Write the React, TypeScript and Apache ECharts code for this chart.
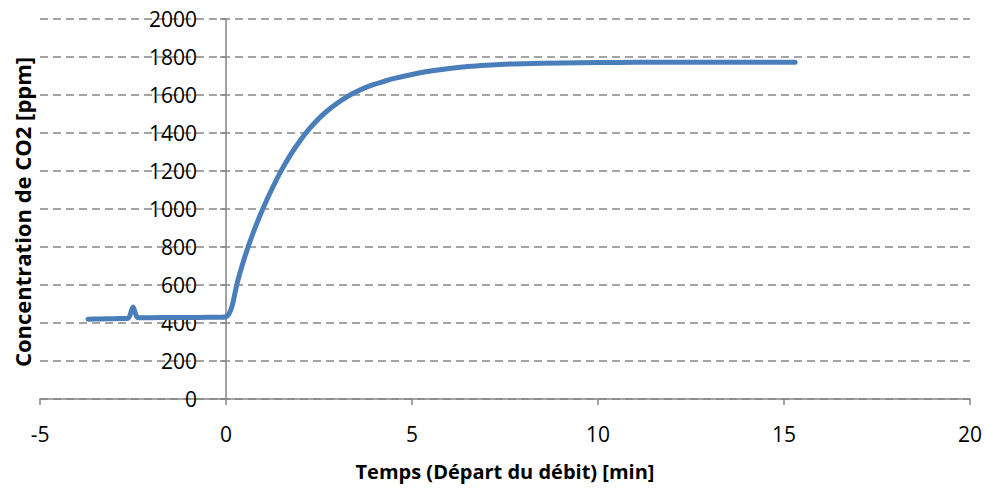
import React, { useEffect, useRef } from "react";
import * as echarts from "echarts";

const timeMin: number[] = [
  -3.71, -3.4, -3.0, -2.63, -2.5, -2.37, -2.0, -1.5, -1.0, -0.5, 0.0, 0.15, 0.3, 0.5, 0.75,
  1.0, 1.25, 1.5, 1.75, 2.0, 2.25, 2.5, 2.75, 3.0, 3.25, 3.5, 3.75, 4.0, 4.25, 4.5, 5.0, 5.5, 6.0,
  6.5, 7.0, 7.5, 8.0, 9.0, 10.0, 11.0, 12.0, 13.0, 14.0, 15.3,
];
const co2Ppm: number[] = [
  420, 421, 423, 425, 484, 428, 428, 429, 429, 430, 432, 480, 610, 745, 885,
  1005, 1112, 1207, 1290, 1362, 1424, 1477, 1521, 1558, 1590, 1617, 1639, 1657, 1672, 1686, 1708, 1726, 1740,
  1750, 1757, 1762, 1765, 1769, 1771, 1772, 1772, 1772, 1772, 1772,
];

const xTitle = "Temps (Départ du débit) [min]";
const yTitle = "Concentration de CO2 [ppm]";

const X_MIN = -5;
const X_MAX = 20;

export default function App() {
  const ref = useRef<HTMLDivElement>(null);
  useEffect(() => {
    if (!ref.current) return;
    const chart = echarts.init(ref.current, null, { renderer: "svg" });
    const font = "'Open Sans', Calibri, sans-serif";
    const axisColor = "#868686";
    const gridLeft = 40;
    const gridRight = 15;
    const plotW = 985 - gridLeft - gridRight;
    const yAxisShift = ((0 - X_MIN) / (X_MAX - X_MIN)) * plotW;
    chart.setOption({
      animation: false,
      backgroundColor: "#ffffff",
      textStyle: { fontFamily: font },
      grid: {
        left: gridLeft,
        right: gridRight,
        top: 19,
        bottom: 91,
        containLabel: false,
        outerBoundsMode: "none",
      },
      xAxis: {
        type: "value",
        min: X_MIN,
        max: X_MAX,
        interval: 5,
        name: xTitle,
        nameLocation: "middle",
        nameGap: 62,
        nameTextStyle: { fontFamily: font, fontSize: 20, fontWeight: "bold", color: "#000" },
        axisLine: { show: true, onZero: false, lineStyle: { color: axisColor, width: 1.5 } },
        axisTick: { show: true, length: 6, lineStyle: { color: axisColor, width: 1.5 } },
        axisLabel: { fontFamily: font, fontSize: 21, color: "#000", margin: 24 },
        splitLine: { show: false },
      },
      yAxis: {
        type: "value",
        min: 0,
        max: 2000,
        interval: 200,
        offset: -yAxisShift,
        axisLine: { show: true, onZero: false, lineStyle: { color: axisColor, width: 1.5 } },
        axisTick: { show: true, length: 6, lineStyle: { color: axisColor, width: 1.5 } },
        axisLabel: {
          fontFamily: font,
          fontSize: 21,
          color: "#000",
          margin: 29,
          formatter: (v: number) => String(v),
        },
        splitLine: { show: true, lineStyle: { color: axisColor, width: 1.5, type: [8, 5] } },
      },
      graphic: [
        {
          type: "text",
          x: 22,
          y: 212,
          rotation: Math.PI / 2,
          style: {
            text: yTitle,
            fontFamily: font,
            fontSize: 22,
            fontWeight: "bold",
            fill: "#000",
            align: "center",
            verticalAlign: "middle",
          },
        },
      ],
      series: [
        {
          type: "line",
          data: timeMin.map((t, i) => [t, co2Ppm[i]]),
          showSymbol: false,
          smooth: 0.25,
          lineStyle: { color: "#4a7ebb", width: 5, cap: "round", join: "round" },
          itemStyle: { color: "#4a7ebb" },
        },
      ],
    });
    return () => chart.dispose();
  }, []);
  return (
    <div
      ref={ref}
      style={{ position: "fixed", left: 0, top: 0, width: 985, height: 490, background: "#fff" }}
    />
  );
}
